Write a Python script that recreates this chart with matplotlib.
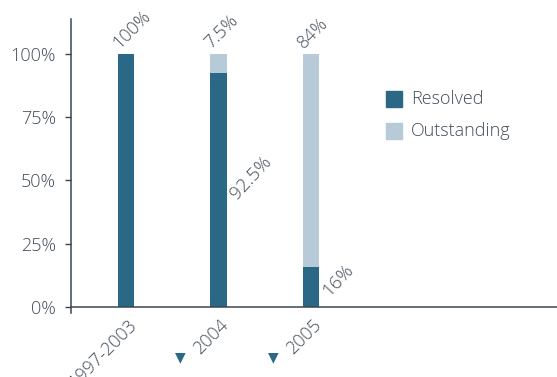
import matplotlib.pyplot as plt
import matplotlib.transforms as mtransforms
import numpy as np

# resolution status per period
periods = ["1997-2003", "2004", "2005"]
resolved = [100, 92.5, 16]
outstanding = [0, 7.5, 84]
top_labels = ["100%", "7.5%", "84%"]
side_labels = [None, "92.5%", "16%"]
flagged = [False, True, True]

dark = "#2a6886"
light = "#b6cad8"
txt = "#414d57"
fs = 13

plt.rcParams['font.family'] = ['Open Sans', 'DejaVu Sans']
plt.rcParams['font.weight'] = 'light'

fig = plt.figure(figsize=(5.57, 3.77), dpi=100)
ax = fig.add_axes([71 / 557, 1 - 313.3 / 377, 1 - 71 / 557, (313.3 - 18.6) / 377])

x = np.arange(len(periods))
w = 0.175
ax.bar(x, resolved, width=w, color=dark, zorder=2)
ax.bar(x, outstanding, width=w, bottom=resolved, color=light, zorder=2)

ax.set_xlim(-0.6, 4.67)
ax.set_ylim(-2.5, 114)

for s in ["top", "right"]:
    ax.spines[s].set_visible(False)
ax.spines["bottom"].set_position(("data", 0))
for s in ["left", "bottom"]:
    ax.spines[s].set_color("#3a4650")
    ax.spines[s].set_linewidth(1.1)

ax.set_yticks([0, 25, 50, 75, 100])
ax.set_yticklabels(["0%", "25%", "50%", "75%", "100%"])
ax.tick_params(axis="y", length=4.5, width=1, color="#3a4650", labelsize=fs,
               labelcolor=txt, pad=6.5)

# rotated period labels under the axis
ax.set_xticks(x)
ax.set_xticklabels([])
ax.tick_params(axis="x", length=0)
for i, p in enumerate(periods):
    off = mtransforms.ScaledTranslation(1 / 100, -9 / 100, fig.dpi_scale_trans)
    ax.text(i, 0, p, rotation=45, ha="right", va="top", rotation_mode="anchor",
            fontsize=fs, color=txt, transform=ax.transData + off)
    if flagged[i]:
        off2 = mtransforms.ScaledTranslation(-38 / 100, -50 / 100, fig.dpi_scale_trans)
        ax.text(i, 0, "\u25BC", ha="center", va="center", fontsize=10,
                color=dark, family=["DejaVu Sans"], weight="normal",
                transform=ax.transData + off2)

# value labels
for i in range(len(periods)):
    total = resolved[i] + outstanding[i]
    ax.text(i - 0.08, total + 2, top_labels[i], rotation=45, ha="left", va="baseline",
            rotation_mode="anchor", fontsize=fs, color=txt)
    if side_labels[i]:
        ax.text(i + 0.2, resolved[i] / 2 - 4, side_labels[i], rotation=47,
                ha="left", va="baseline", rotation_mode="anchor", fontsize=fs + 0.5, color=txt)

# legend
legend_items = [("Resolved", dark), ("Outstanding", light)]
for k, (name, col) in enumerate(legend_items):
    yp = 1 - (99 + 32 * k) / 377
    fig.patches.append(plt.Rectangle((386 / 557, yp - 8 / 377), 16 / 557, 16 / 377,
                                     transform=fig.transFigure, color=col))
    fig.text(411 / 557, yp, name, ha="left", va="center", fontsize=fs, color=txt)

fig.savefig("out.png", dpi=100)
